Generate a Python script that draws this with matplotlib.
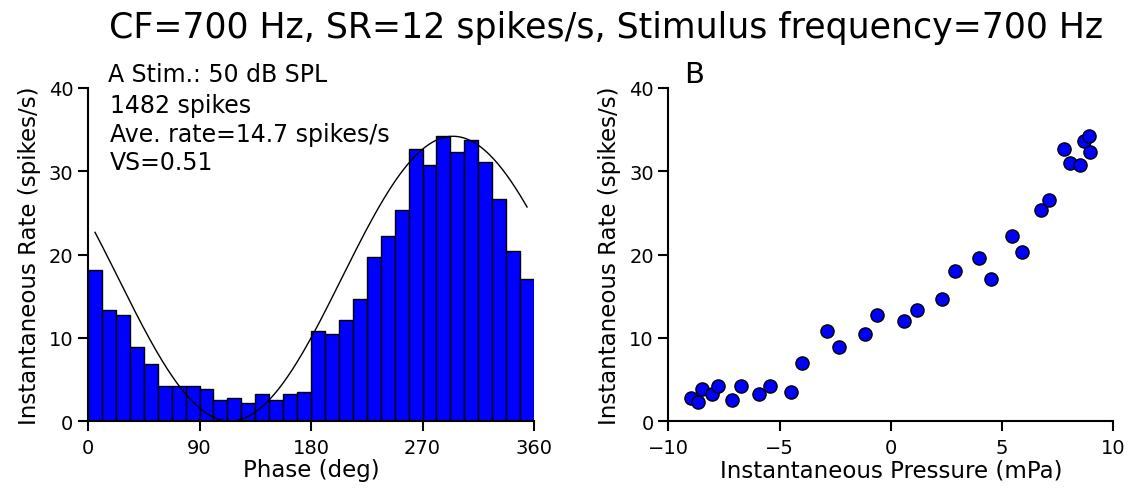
import numpy as np
import matplotlib
matplotlib.use("Agg")
import matplotlib.pyplot as plt

# Panel A: period histogram (32 bins over one cycle)
bin_edges = np.linspace(0, 360, 33)
rates = [18.1, 13.3, 12.7, 8.9, 6.9, 4.2, 4.2, 4.2, 3.8, 2.5, 2.8, 2.2, 3.2, 2.5, 3.2, 3.5,
         10.8, 10.5, 12.1, 14.7, 19.7, 22.2, 25.4, 32.7, 30.8, 34.2, 32.3, 33.7, 31.1, 26.7, 20.4, 17.1]

# fitted sinusoid (mean rate, amplitude, phase of peak)
fit_mean = 17.1
fit_amp = 17.1
fit_peak = 294.6

# Panel B: rate vs instantaneous pressure
pressure = [-8.99, -8.66, -8.49, -8.04, -7.79, -7.12, -6.74, -5.92, -5.45, -4.49, -3.97,
            -2.88, -2.34, -1.17, -0.60, 0.58, 1.17, 2.32, 2.88, 3.97, 4.49, 5.47, 5.92,
            6.77, 7.13, 7.78, 8.04, 8.51, 8.67, 8.91, 8.97]
inst_rate = [2.8, 2.3, 3.8, 3.2, 4.2, 2.5, 4.2, 3.2, 4.2, 3.5, 7.0,
             10.8, 8.9, 10.5, 12.7, 12.0, 13.3, 14.6, 18.0, 19.6, 17.1, 22.2, 20.3,
             25.4, 26.6, 32.7, 31.0, 30.7, 33.6, 34.2, 32.3]

title = "CF=700 Hz, SR=12 spikes/s, Stimulus frequency=700 Hz"
info_lines = ["1482 spikes", "Ave. rate=14.7 spikes/s", "VS=0.51"]

plt.rcParams["font.family"] = "DejaVu Sans"

fig = plt.figure(figsize=(11.29, 4.89), dpi=100)
ax1 = fig.add_axes([0.078, 0.137, 0.395, 0.681])
ax2 = fig.add_axes([0.592, 0.137, 0.394, 0.681])

# histogram
widths = np.diff(bin_edges)
ax1.bar(bin_edges[:-1], rates, width=widths, align="edge", color="#0000ff",
        edgecolor="black", linewidth=1)
centers = bin_edges[:-1] + widths / 2
ph = np.linspace(centers[0], centers[-1], 300)
ax1.plot(ph, fit_mean + fit_amp * np.cos(np.radians(ph - fit_peak)), color="black", lw=1)
ax1.set_xlim(0, 360)
ax1.set_ylim(0, 40)
ax1.set_xticks([0, 90, 180, 270, 360])
ax1.set_yticks([0, 10, 20, 30, 40])
ax1.set_xlabel("Phase (deg)", fontsize=16.5, labelpad=1)
ax1.set_ylabel("Instantaneous Rate (spikes/s)", fontsize=16.5, labelpad=6)

# scatter
ax2.scatter(pressure, inst_rate, s=90, color="#0000ff", edgecolors="black",
            linewidths=1, zorder=3, clip_on=False)
ax2.set_xlim(-10, 10)
ax2.set_ylim(0, 40)
ax2.set_xticks([-10, -5, 0, 5, 10])
ax2.set_yticks([0, 10, 20, 30, 40])
ax2.set_xlabel("Instantaneous Pressure (mPa)", fontsize=16.5, labelpad=1)
ax2.set_ylabel("Instantaneous Rate (spikes/s)", fontsize=16.5, labelpad=6)

for ax in (ax1, ax2):
    ax.spines["top"].set_visible(False)
    ax.spines["right"].set_visible(False)
    ax.spines["left"].set_linewidth(1.5)
    ax.spines["bottom"].set_linewidth(1.5)
    ax.tick_params(direction="out", length=7, width=1.5, labelsize=14)
    ax.tick_params(axis="x", pad=5)

fig.text(0.537, 0.922, title, ha="center", va="baseline", fontsize=25)
fig.text(0.0957, 0.832, "A Stim.: 50 dB SPL", ha="left", va="baseline", fontsize=17)
for i, line in enumerate(info_lines):
    fig.text(0.0975, 0.768 - i * 0.058, line, ha="left", va="baseline", fontsize=17)
fig.text(0.606, 0.830, "B", ha="left", va="baseline", fontsize=21)

fig.savefig("out.png", dpi=100)
